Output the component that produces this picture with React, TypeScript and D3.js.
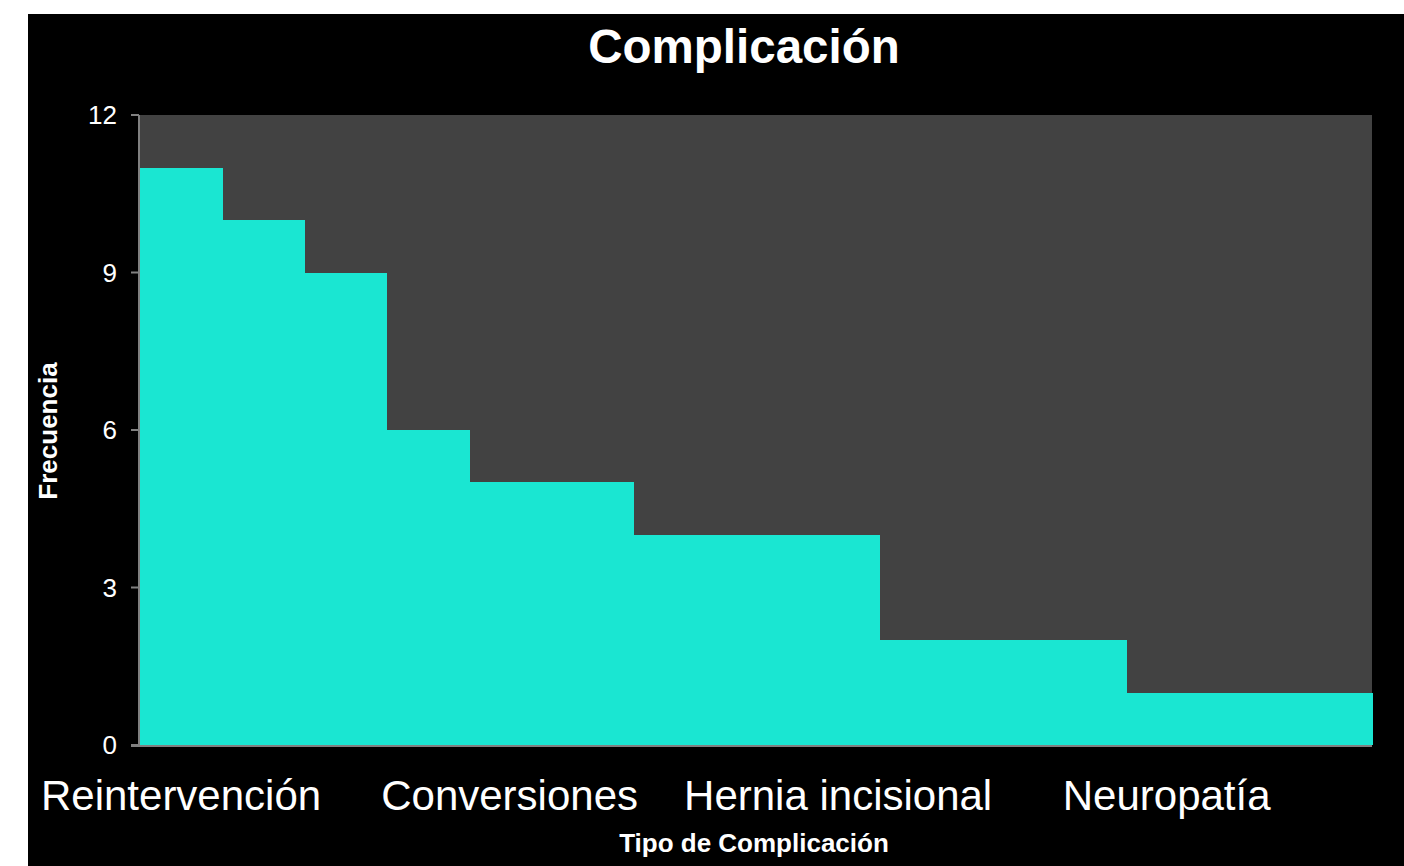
import React from "react";
import * as d3 from "d3";

const barValues = [11, 10, 9, 6, 5, 5, 4, 4, 4, 2, 2, 2, 1, 1, 1];
const xTickLabels = [
  { index: 0, label: "Reintervención" },
  { index: 4, label: "Conversiones" },
  { index: 8, label: "Hernia incisional" },
  { index: 12, label: "Neuropatía" },
];
const yTicks = [0, 3, 6, 9, 12];
const title = "Complicación";
const xTitle = "Tipo de Complicación";
const yTitle = "Frecuencia";

export default function App() {
  const W = 1404, H = 866;
  const left = 140, right = 1372, top = 115, bottom = 745;
  const font = "'Liberation Sans', Arial, sans-serif";
  const x = d3.scaleBand<number>().domain(barValues.map((_, i) => i)).range([left, right]).padding(0);
  const y = d3.scaleLinear().domain([0, 12]).range([bottom, top]);
  return (
    <svg width={W} height={H} style={{ position: "absolute", left: 0, top: 0 }}>
      <rect x={28} y={14} width={W - 28} height={H - 14} fill="#000" />
      <rect x={left} y={top} width={right - left} height={bottom - top} fill="#424242" />
      <g shapeRendering="crispEdges">
        {barValues.map((v, i) => (
          <rect key={i} x={Math.round(x(i)!)} y={Math.round(y(v))} width={Math.round(x(i)! + x.bandwidth()) - Math.round(x(i)!) + 1} height={bottom - Math.round(y(v))} fill="#1AE6D2" />
        ))}
      </g>
      <line x1={139} x2={139} y1={top} y2={bottom + 1} stroke="#808080" strokeWidth={2} />
      <line x1={131} x2={right} y1={bottom + 1} y2={bottom + 1} stroke="#808080" strokeWidth={2} />
      {yTicks.map((t) => (
        <g key={t}>
          <line x1={131} x2={139} y1={y(t)} y2={y(t)} stroke="#808080" strokeWidth={2} />
          <text x={117} y={y(t)} dy="0.36em" textAnchor="end" fill="#fff" fontFamily={font} fontSize={26}>{t}</text>
        </g>
      ))}
      {xTickLabels.map((d) => (
        <text key={d.index} x={x(d.index)! + x.bandwidth() / 2} y={810} textAnchor="middle" fill="#fff" fontFamily={font} fontSize={42}>{d.label}</text>
      ))}
      <text x={744} y={63} textAnchor="middle" fill="#fff" fontFamily={font} fontSize={47.5} fontWeight="bold">{title}</text>
      <text x={754} y={852} textAnchor="middle" fill="#fff" fontFamily={font} fontSize={26} fontWeight="bold">{xTitle}</text>
      <text transform="translate(57,431) rotate(-90)" textAnchor="middle" fill="#fff" fontFamily={font} fontSize={26} fontWeight="bold">{yTitle}</text>
    </svg>
  );
}
